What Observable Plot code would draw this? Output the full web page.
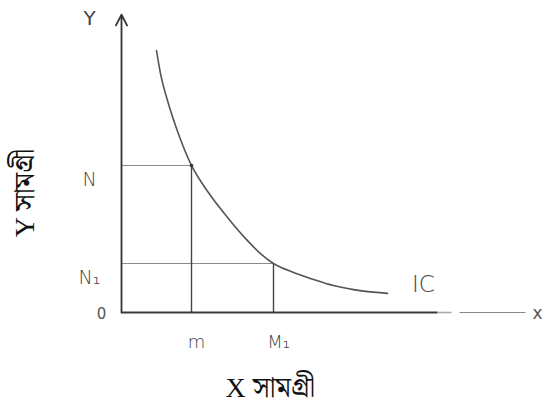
<!DOCTYPE html>
<html>
<head>
<meta charset="utf-8">
<script src="https://cdn.jsdelivr.net/npm/d3@7"></script>
<script src="https://cdn.jsdelivr.net/npm/@observablehq/plot@0.6"></script>
<style>
  html, body { margin: 0; padding: 0; background: #fff; }
  #chart svg { display: block; }
</style>
</head>
<body>
<div id="chart"></div>
<script>
// Indifference curve (IC) points (x = good X, y = good Y)
const curveX = [0.875, 0.975, 1.15, 1.40, 1.75, 2.15, 2.65, 3.15, 3.475, 3.80, 4.30, 4.80, 5.30, 5.80, 6.65];
const curveY = [9.03, 8.24, 7.31, 6.25, 5.07, 4.18, 3.28, 2.48, 2.03, 1.69, 1.38, 1.14, 0.93, 0.79, 0.66];

// Guide points on the curve
const guideNames = ["m", "M₁"];
const guideX = [1.75, 3.80];
const guideY = [5.07, 1.69];
const guideYLabels = ["N", "N₁"];

// Axes segments: [start, end] in data units
const xAxisHeavy = [0, 7.9];
const xAxisFade = [7.9, 8.25];
const xAxisLight = [8.45, 10.1];
const yAxisSpan = [0, 10.2];

// Labels
const originLabel = "0";
const yTopLabel = "Y";
const xEndLabel = "x";
const curveLabel = "IC";
const xTitle = "X সামগ্রী";
const yTitle = "Y সামগ্রী";

const curve = curveX.map((x, i) => ({x, y: curveY[i]}));
const guides = guideX.map((x, i) => ({x, y: guideY[i], name: guideNames[i], yname: guideYLabels[i]}));
const seg = (s) => [{a: s[0], b: s[1]}];

const hand = "'DejaVu Sans', sans-serif";
const serif = "'Liberation Serif', 'Noto Serif Bengali', 'Noto Sans Bengali', serif";

const chart = Plot.plot({
  width: 546,
  height: 407,
  margin: 0,
  x: {domain: [0, 10], range: [121, 521], axis: null},
  y: {domain: [0, 10], range: [312, 22], axis: null},
  style: {background: "#fff"},
  marks: [
    // horizontal guides to the y axis
    Plot.link(guides, {x1: 0, x2: "x", y1: "y", y2: "y", stroke: "#8a8a8a", strokeWidth: 1}),
    // vertical guides down to the x axis
    Plot.link(guides, {x1: "x", x2: "x", y1: 0, y2: "y", stroke: "#444", strokeWidth: 1.4}),
    // x axis: heavy part, fade and light extension
    Plot.link(seg(xAxisHeavy), {x1: "a", x2: "b", y1: 0, y2: 0, stroke: "#3a3a3a", strokeWidth: 2.2}),
    Plot.link(seg(xAxisFade), {x1: "a", x2: "b", y1: 0, y2: 0, stroke: "#aaa", strokeWidth: 1.6}),
    Plot.link(seg(xAxisLight), {x1: "a", x2: "b", y1: 0, y2: 0, stroke: "#888", strokeWidth: 1.2}),
    // y axis with arrow
    Plot.arrow([{x: 0, y1: yAxisSpan[0], y2: yAxisSpan[1]}], {x: "x", y1: "y1", y2: "y2", stroke: "#333", strokeWidth: 1.8, headLength: 10, headAngle: 55, insetEnd: -2}),
    // indifference curve
    Plot.line(curve, {x: "x", y: "y", curve: "monotone-x", stroke: "#555", strokeWidth: 1.6}),
    Plot.dot([guides[0]], {x: "x", y: "y", r: 1.8, fill: "#333"}),
    // point labels
    Plot.text(guides, {x: "x", y: 0, text: "name", dy: 30, dx: 5, fontSize: 18, fill: "#444", fontFamily: hand, fontWeight: 300}),
    Plot.text(guides, {x: -0.8, y: "y", text: "yname", dy: 14, fontSize: 19, fill: "#444", fontFamily: hand, fontWeight: 300}),
    Plot.text([{x: -0.5, y: 0}], {x: "x", y: "y", text: [originLabel], fontSize: 15, fill: "#555", fontFamily: hand, dy: 2}),
    Plot.text([{x: -0.8, y: 10}], {x: "x", y: "y", text: [yTopLabel], fontSize: 20, fill: "#444", fontFamily: hand, dy: -4}),
    Plot.text([{x: 10.1, y: 0}], {x: "x", y: "y", text: [xEndLabel], fontSize: 17, fill: "#555", fontFamily: hand, dx: 12, dy: 1}),
    Plot.text([{x: 7.55, y: 0.97}], {x: "x", y: "y", text: [curveLabel], fontSize: 23, fill: "#444", fontFamily: hand, fontWeight: 300}),
    // axis titles
    Plot.text([{x: 3.72, y: -2.6}], {x: "x", y: "y", text: [xTitle], fontSize: 28, fill: "#111", fontFamily: serif}),
    Plot.text([{x: -2.4, y: 4.12}], {x: "x", y: "y", text: [yTitle], fontSize: 28, fill: "#111", fontFamily: serif, rotate: -90})
  ]
});

document.getElementById("chart").appendChild(chart);
</script>
</body>
</html>
